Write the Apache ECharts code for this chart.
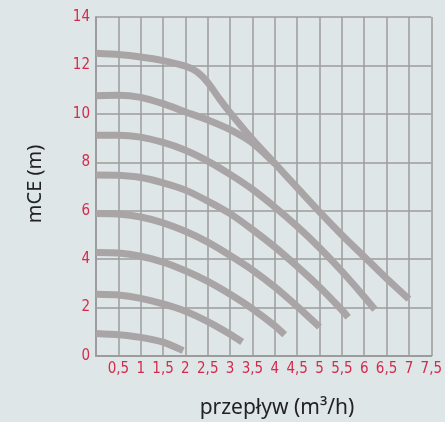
<!DOCTYPE html>
<html>
<head>
<meta charset="utf-8">
<script src="https://cdn.jsdelivr.net/npm/echarts@6/dist/echarts.min.js"></script>
<style>
html,body{margin:0;padding:0;background:#dfe6e8;}
#c{width:445px;height:422px;}
</style>
</head>
<body>
<div id="c"></div>
<script>
// Flow (m3/h) / head (mCE) points for each pump speed curve
var curveA = [[0,12.5],[0.5,12.45],[1,12.35],[1.5,12.2],[2,11.97],[2.25,11.75],[2.5,11.3],[2.75,10.65],[3,10.05],[3.5,8.95],[4,7.95],[4.5,6.95],[5,5.95],[5.5,5.0],[6,4.1],[6.5,3.2],[7,2.35]];
var curveB = [[0,10.75],[0.5,10.77],[1,10.68],[1.5,10.42],[2,10.08],[2.5,9.75],[3,9.35],[3.5,8.8],[4,7.95]];
var curveC = [[0,9.12],[0.5,9.12],[1,9.04],[1.5,8.82],[2,8.5],[2.5,8.05],[3,7.5],[3.5,6.88],[4,6.15],[4.5,5.35],[5,4.47],[5.5,3.5],[6,2.45],[6.24,1.92]];
var curveD = [[0,7.47],[0.5,7.46],[1,7.37],[1.5,7.15],[2,6.85],[2.5,6.4],[3,5.88],[3.5,5.22],[4,4.5],[4.5,3.7],[5,2.85],[5.5,1.9],[5.64,1.6]];
var curveE = [[0,5.88],[0.5,5.86],[1,5.74],[1.5,5.5],[2,5.15],[2.5,4.7],[3,4.15],[3.5,3.55],[4,2.85],[4.5,2.05],[5,1.2]];
var curveF = [[0,4.27],[0.5,4.25],[1,4.12],[1.5,3.88],[2,3.52],[2.5,3.08],[3,2.55],[3.5,1.95],[4,1.25],[4.22,0.88]];
var curveG = [[0,2.55],[0.5,2.52],[1,2.38],[1.5,2.15],[2,1.85],[2.5,1.42],[3,0.9],[3.27,0.58]];
var curveH = [[0,0.93],[0.5,0.88],[1,0.77],[1.5,0.57],[1.95,0.22]];

var xTickLabels = ['', '0,5', '1', '1,5', '2', '2,5', '3', '3,5', '4', '4,5', '5', '5,5', '6', '6,5', '7', '7,5'];
var yTickLabels = ['0', '2', '4', '6', '8', '10', '12', '14'];
var xTitle = 'przepływ (m³/h)';
var yTitle = 'mCE (m)';

var FONT = "'DejaVu Sans Condensed','Liberation Sans Narrow','Roboto Condensed','Noto Sans',sans-serif";
var RED = '#d42a4c';
var GRID = '#9c9c9c';
var CURVE = '#a9a5a6';

var chart = echarts.init(document.getElementById('c'), null, {renderer: 'canvas'});

function mk(data) {
  return {
    type: 'line', data: data, showSymbol: false, symbol: 'none', smooth: 0.2,
    lineStyle: {color: CURVE, width: 7, cap: 'butt', join: 'round'},
    animation: false, silent: true
  };
}

chart.setOption({
  backgroundColor: '#dfe6e8',
  animation: false,
  grid: {left: 96, right: 11, top: 17, bottom: 66},
  xAxis: {
    type: 'value', min: 0, max: 7.5, interval: 0.5,
    axisLine: {show: true, lineStyle: {color: GRID, width: 2}},
    axisTick: {show: false},
    splitLine: {show: true, lineStyle: {color: GRID, width: 1.5}},
    axisLabel: {
      color: RED, fontFamily: FONT, fontSize: 15, margin: 6,
      formatter: function (v) { return xTickLabels[Math.round(v / 0.5)]; }
    }
  },
  yAxis: {
    type: 'value', min: 0, max: 14, interval: 2,
    axisLine: {show: true, lineStyle: {color: GRID, width: 2}},
    axisTick: {show: false},
    splitLine: {show: true, lineStyle: {color: GRID, width: 1.5}},
    axisLabel: {
      color: RED, fontFamily: FONT, fontSize: 15, margin: 6,
      formatter: function (v) { return yTickLabels[Math.round(v / 2)]; }
    }
  },
  graphic: [
    {type: 'text', x: 35, y: 184, rotation: Math.PI / 2, style: {text: yTitle, fontFamily: "'Noto Sans',sans-serif", fontSize: 20, fill: '#222', textAlign: 'center', textVerticalAlign: 'middle'}},
    {type: 'text', x: 277, y: 408, style: {text: xTitle, fontFamily: "'Noto Sans',sans-serif", fontSize: 21, fill: '#222', textAlign: 'center', textVerticalAlign: 'middle'}}
  ],
  series: [mk(curveH), mk(curveG), mk(curveF), mk(curveE), mk(curveD), mk(curveC), mk(curveB), mk(curveA)]
});
</script>
</body>
</html>
